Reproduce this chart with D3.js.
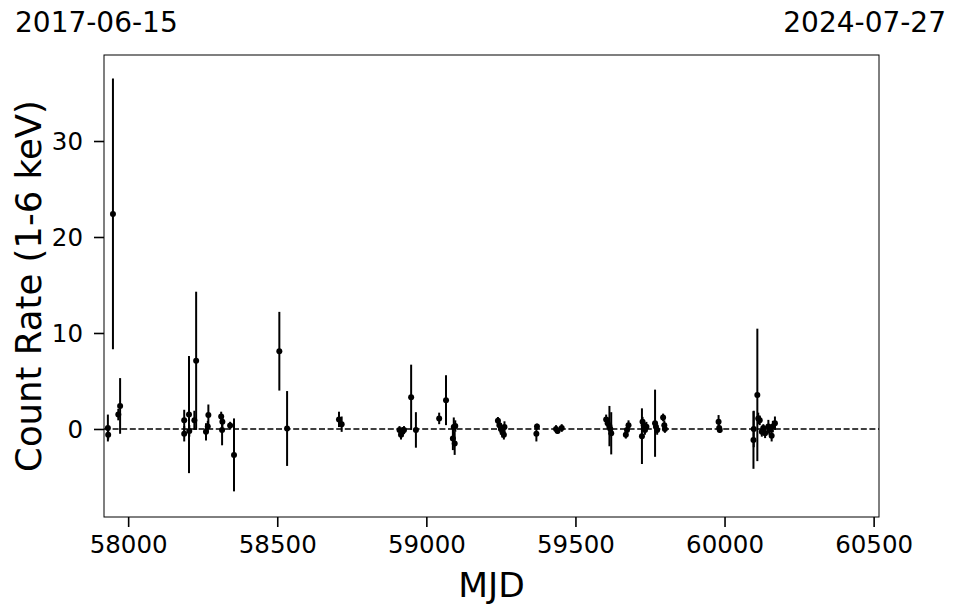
<!DOCTYPE html>
<html>
<head>
<meta charset="utf-8">
<script src="https://cdn.jsdelivr.net/npm/d3@7/dist/d3.min.js"></script>
<style>
html,body{margin:0;padding:0;background:#fff;}
svg{display:block;}
text{font-family:"DejaVu Sans",sans-serif;fill:#000;}
</style>
</head>
<body>
<svg id="chart" width="957" height="613"></svg>
<script>
// ---- data ----
const mjd = [57932,57933,57949,57967,57973,58188,58188,58204,58205,58222,58228,58261,58267,58269,58312,58316,58315,58342,58355,
58507,58533,58707,58716,58910,58915,58920,58925,58949,58965,59043,59066,59089,59092,59095,59097,
59240,59245,59250,59255,59260,59262,59371,59369,59435,59440,59454,
59603,59608,59614,59620,59617,59669,59673,59678,59723,59725,59729,59733,59738,59767,59770,59774,59794,59798,59800,
59980,59982,59984,60097,60098,60110,60113,60118,60125,60130,60136,60147,60150,60158,60162,60169];
const rate = [0.1,-0.6,22.4,1.5,2.4,0.9,-0.5,1.5,-0.2,0.9,7.1,-0.3,0.25,1.45,1.3,0.75,-0.1,0.35,-2.7,
8.1,0.05,1.0,0.5,-0.1,-0.6,-0.3,-0.1,3.3,-0.1,1.1,3.0,-1.0,0.2,-1.5,0.3,
0.85,0.4,0.0,-0.3,-0.6,0.2,0.25,-0.5,0.0,-0.2,0.1,
1.0,0.6,0.3,-0.45,0.0,-0.6,-0.1,0.4,-0.75,0.76,0.4,-0.1,0.24,0.6,0.24,-0.1,1.2,0.4,0.0,
0.75,0.1,-0.1,-1.15,0.0,3.55,1.1,0.9,-0.3,0.1,-0.45,0.25,-0.1,-0.7,0.25,0.6];
const rateErr = [1.4,0.5,14.1,0.6,2.9,1.1,0.8,6.1,0.6,1.0,7.2,0.9,0.6,1.1,0.5,0.6,1.6,0.4,3.8,
4.1,3.9,0.8,0.8,0.4,0.5,0.5,0.4,3.4,1.85,0.6,2.6,1.2,1.0,1.2,0.6,
0.4,0.5,0.6,0.6,0.5,0.6,0.3,0.8,0.4,0.3,0.4,
0.5,0.6,2.1,2.2,0.5,0.4,0.5,0.5,2.9,0.5,0.5,0.5,0.5,3.5,0.5,0.5,0.4,0.5,0.4,
0.7,0.4,0.3,3.0,1.9,6.9,0.6,0.5,0.5,0.4,0.5,0.7,0.5,0.6,0.6,0.7];
const xTicks = [58000,58500,59000,59500,60000,60500];
const yTicks = [0,10,20,30];
const xDomain = [57919,60518];
const yDomain = [-9.17,38.96];
const dateLabels = ["2017-06-15","2024-07-27"];
const xLabel = "MJD";
const yLabel = "Count Rate (1-6 keV)";

// ---- layout ----
const W = 957, H = 613;
const m = {left:104, right:78, top:55, bottom:96};

const svg = d3.select("#chart");
const x = d3.scaleLinear().domain(xDomain).range([m.left, W - m.right]);
const y = d3.scaleLinear().domain(yDomain).range([H - m.bottom, m.top]);

// zero dashed line
svg.append("line")
  .attr("x1", m.left).attr("x2", W - m.right)
  .attr("y1", y(0)).attr("y2", y(0))
  .attr("stroke", "#000").attr("stroke-width", 1.5)
  .attr("stroke-dasharray", "6,2.6");

// data
const pts = mjd.map((d,i)=>({t:d, v:rate[i], e:rateErr[i]}));
const g = svg.append("g");
g.selectAll("line.err").data(pts).join("line")
  .attr("class","err")
  .attr("x1", d=>x(d.t)).attr("x2", d=>x(d.t))
  .attr("y1", d=>y(d.v - d.e)).attr("y2", d=>y(d.v + d.e))
  .attr("stroke","#000").attr("stroke-width",2);
g.selectAll("circle").data(pts).join("circle")
  .attr("cx", d=>x(d.t)).attr("cy", d=>y(d.v)).attr("r", 3)
  .attr("fill","#000");

// axes
const xAxis = d3.axisBottom(x).tickValues(xTicks).tickFormat(d3.format("d")).tickSizeOuter(0).tickSize(10).tickPadding(7);
const yAxis = d3.axisLeft(y).tickValues(yTicks).tickFormat(d3.format("d")).tickSizeOuter(0).tickSize(10).tickPadding(11);

const gx = svg.append("g").attr("transform", `translate(0,${H - m.bottom})`).call(xAxis);
const gy = svg.append("g").attr("transform", `translate(${m.left},0)`).call(yAxis);
[gx, gy].forEach(ax => {
  ax.select(".domain").remove();
  ax.selectAll(".tick line").attr("stroke","#000").attr("stroke-width",1.6);
  ax.selectAll(".tick text").attr("font-size",24.5).attr("font-family","DejaVu Sans").attr("fill","#000");
});
gx.selectAll(".tick text").attr("dy","0.76em");
gy.selectAll(".tick text").attr("dy","0.36em");

// frame
svg.append("rect")
  .attr("x", m.left).attr("y", m.top)
  .attr("width", W - m.left - m.right).attr("height", H - m.top - m.bottom)
  .attr("fill","none").attr("stroke","#000").attr("stroke-width",1);

// labels
svg.append("text").text(xLabel)
  .attr("font-size",34.5).attr("text-anchor","middle")
  .attr("x", (m.left + W - m.right)/2).attr("y", 597);
svg.append("text").text(yLabel)
  .attr("font-size",35.5).attr("text-anchor","middle")
  .attr("transform", `translate(41,${(m.top + H - m.bottom)/2}) rotate(-90)`);

// date titles
svg.append("text").text(dateLabels[0])
  .attr("font-size",28).attr("text-anchor","start")
  .attr("x", 15).attr("y", 32);
svg.append("text").text(dateLabels[1])
  .attr("font-size",28).attr("text-anchor","end")
  .attr("x", 946).attr("y", 32);
</script>
</body>
</html>
